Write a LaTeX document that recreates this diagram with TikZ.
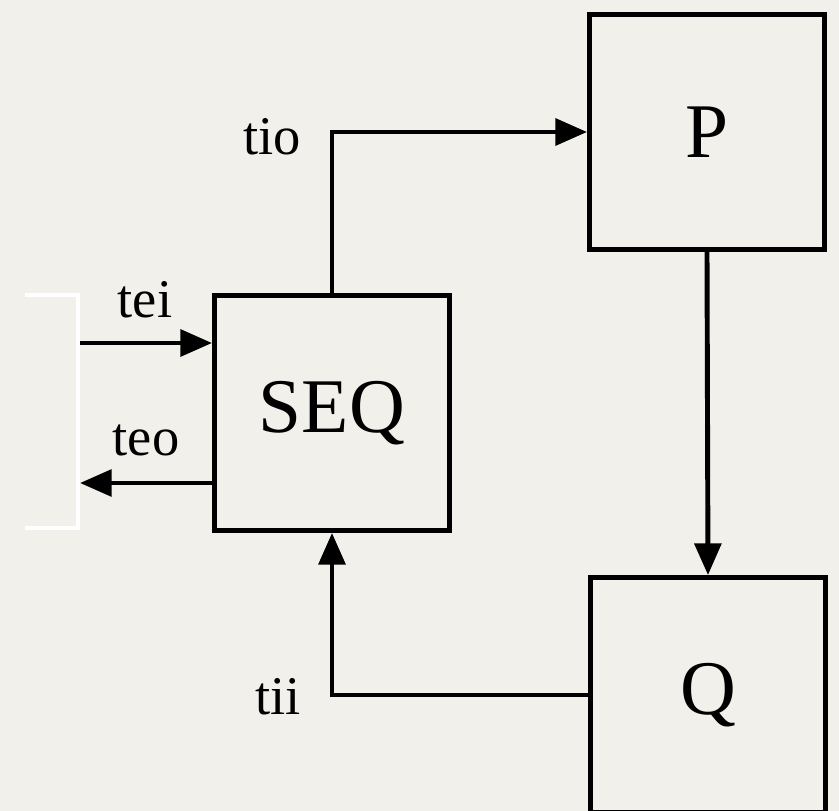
\documentclass[tikz,border=0pt]{standalone}
\usepackage{fontspec}
\setmainfont{Liberation Serif}
\usetikzlibrary{positioning,arrows.meta}
\definecolor{paper}{RGB}{242,240,235}

\begin{document}
\begin{tikzpicture}[x=0.02cm, y=-0.02cm,
  block/.style={draw, line width=2.8pt, minimum width=4.7cm,
                minimum height=4.7cm, font=\fontsize{44}{48}\selectfont},
  wire/.style={line width=2.8pt, -{Triangle[length=18pt, width=15pt]}},
  lbl/.style={font=\fontsize{31}{34}\selectfont},
  ]
  \clip (0,0) rectangle (839,811);
  \fill[paper] (0,0) rectangle (839,811);

  \node[block] (seq) at (332,413) {\raisebox{-4pt}{SEQ}};
  \node[block] (p) at (707,132) {\raisebox{-5pt}{P}};
  \node[block] (q) at (708,695) {Q};

  % environment side
  \draw[white, line width=2pt] (25,295) -- (78,295) -- (78,528) -- (25,528);
  \coordinate (ein) at (80,343);
  \coordinate (eout) at (80,483);

  \draw[wire] (ein) -- (seq.west |- ein);
  \draw[wire] (seq.west |- eout) -- (eout);
  \draw[wire] (seq.north) |- (p.west);
  \draw[wire] (p.south) -- (q.north);
  \draw[wire] (q.west) -| (seq.south);

  \node[lbl] (tei) at (145,300) {tei};
  \node[lbl] (teo) at (146,440) {teo};
  \node[lbl] (tio) at (272,137) {tio};
  \node[lbl] (tii) at (278,697) {tii};
\end{tikzpicture}
\end{document}
